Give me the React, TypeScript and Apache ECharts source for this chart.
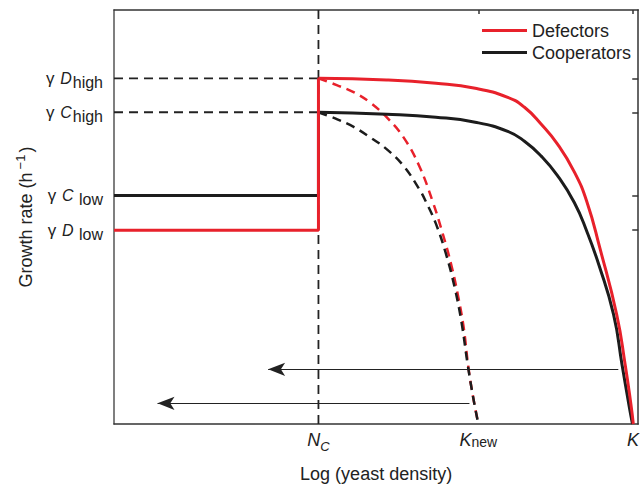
import React, { useEffect, useRef } from "react";
import * as echarts from "echarts";

// x: log yeast density (0..100 arbitrary units), y: growth rate (0..100 arbitrary units)
const xNC = 39;
const xKnew = 69.5;
const xK = 99;

const gammaDHigh = 83.5;
const gammaCHigh = 75.3;
const gammaCLow = 55.2;
const gammaDLow = 46.8;

const defCurveX = [39, 52, 61.4, 68.9, 75.1, 78.3, 81.5, 84.6, 87.8, 90.2, 92.7, 95.9, 97.5, 98.6, 99.06];
const defCurveY = [83.5, 83.1, 82.3, 81.1, 78.9, 76.5, 72.4, 67.6, 60.9, 53.7, 42.4, 26.4, 14.4, 4.8, 0];
const coopCurveX = [39, 52, 61.4, 68.9, 75.1, 78.3, 81.5, 84.6, 87.8, 90.2, 92.5, 95.3, 96.9, 98.2, 98.9];
const coopCurveY = [75.3, 74.8, 74.1, 72.9, 70.7, 68.3, 64.7, 60.0, 53.5, 46.5, 38.4, 26.4, 14.4, 4.8, 0];

const defNewX = [39, 42.6, 45.8, 48.8, 52.0, 55.2, 58.2, 60.8, 62.7, 64.4, 65.7, 66.7, 67.6, 68.5, 69.5];
const defNewY = [83.5, 81.8, 80.1, 77.7, 74.1, 69.3, 62.4, 53.7, 46.0, 38.1, 30.5, 23.3, 13.7, 6.5, 0];
const coopNewX = [39, 42.6, 45.8, 48.8, 52.0, 55.2, 58.2, 59.5, 61.4, 63.3, 65.0, 66.3, 67.4, 68.5, 69.5];
const coopNewY = [75.3, 73.6, 71.7, 69.3, 66.4, 62.4, 56.8, 53.7, 48.4, 41.2, 32.9, 24.5, 14.9, 6.5, 0];

// arrows: [fromX, toX, y]
const arrowUpper = [96.2, 29.4, 13.2];
const arrowLower = [67.8, 8.3, 5.0];

const xTickValues = [xNC, xKnew, xK];
const yTickValues = [gammaDLow, gammaCLow, gammaCHigh, gammaDHigh];

const RED = "#e8212b";
const BLACK = "#1c1c1c";
const FONT = "Liberation Sans";

const zip = (xs: number[], ys: number[]) => xs.map((x, i) => [x, ys[i]]);

export default function App() {
  const ref = useRef<HTMLDivElement>(null);

  useEffect(() => {
    if (!ref.current) return;
    const chart = echarts.init(ref.current, null, { renderer: "svg" });

    const dashed = { type: [9, 6] as any };

    const option: any = {
      animation: false,
      textStyle: { fontFamily: FONT },
      grid: { left: 114, top: 10, width: 531, height: 417 },
      legend: {
        data: ["Defectors", "Cooperators"],
        orient: "vertical",
        left: 477,
        top: 16,
        icon: "rect",
        itemWidth: 45,
        itemHeight: 3,
        itemGap: 3,
        textStyle: { fontSize: 18, color: "#222", fontFamily: FONT, lineHeight: 19 },
      },
      xAxis: [
        {
          type: "value",
          min: 0,
          max: 100,
          position: "bottom",
          axisLine: { show: true, lineStyle: { color: "#333", width: 1.5 } },
          axisTick: { show: false },
          splitLine: { show: false },
          axisLabel: {
            customValues: xTickValues,
            margin: 7,
            formatter: (v: number) => {
              if (Math.abs(v - xNC) < 0.01) return "{i|N}{sub|C}";
              if (Math.abs(v - xKnew) < 0.01) return "{i|K}{n|new}";
              return "{i|K}";
            },
            rich: {
              i: { fontSize: 18, fontStyle: "italic", color: "#222", fontFamily: FONT, verticalAlign: "bottom", padding: [0, 0, 4, 0] },
              sub: { fontSize: 13, fontStyle: "italic", color: "#222", fontFamily: FONT, verticalAlign: "bottom", padding: [0, 0, 0, 0] },
              n: { fontSize: 14, color: "#222", fontFamily: FONT, verticalAlign: "bottom", padding: [0, 0, 4, 0] },
            },
          },
          name: "Log (yeast density)",
          nameLocation: "middle",
          nameGap: 41,
          nameTextStyle: { fontSize: 18, color: "#222", fontFamily: FONT },
        },
        {
          type: "value",
          min: 0,
          max: 100,
          position: "top",
          axisLine: { show: true, onZero: false, lineStyle: { color: "#333", width: 1.5 } },
          axisTick: { show: true, inside: true, length: 4, customValues: [xKnew, xK], lineStyle: { color: "#333", width: 1.5 } },
          axisLabel: { show: false },
          splitLine: { show: false },
        },
      ],
      yAxis: [
        {
          type: "value",
          min: 0,
          max: 100,
          position: "left",
          axisLine: { show: true, lineStyle: { color: "#555", width: 1.5 } },
          axisTick: { show: false },
          splitLine: { show: false },
          axisLabel: {
            customValues: yTickValues,
            margin: 11,
            formatter: (v: number) => {
              if (Math.abs(v - gammaDHigh) < 0.01) return "{g|γ }{i|D}{sub|high}";
              if (Math.abs(v - gammaCHigh) < 0.01) return "{g|γ }{i|C}{sub|high}";
              if (Math.abs(v - gammaCLow) < 0.01) return "{g|γ }{i|C}{sub| low}";
              return "{g|γ }{i|D}{sub| low}";
            },
            rich: {
              g: { fontSize: 17, lineHeight: 17, color: "#222", fontFamily: FONT, verticalAlign: "top", padding: [0, 1, 0, 0] },
              i: { fontSize: 16, lineHeight: 16, fontStyle: "italic", color: "#222", fontFamily: FONT, verticalAlign: "top", padding: [1, 1, 0, 0] },
              sub: { fontSize: 16, lineHeight: 16, color: "#222", fontFamily: FONT, verticalAlign: "top", padding: [5, 0, 0, 0] },
            },
          },
          name: "{a|Growth rate (h}{s|−1}{a|)}",
          nameLocation: "middle",
          nameRotate: 90,
          nameGap: 78,
          nameTextStyle: {
            rich: {
              a: { fontSize: 18, color: "#222", fontFamily: FONT, verticalAlign: "bottom", padding: [0, 0, 0, 0] },
              s: { fontSize: 13, color: "#222", fontFamily: FONT, verticalAlign: "bottom", padding: [0, 2, 8, 3] },
            },
          },
        },
        {
          type: "value",
          min: 0,
          max: 100,
          position: "right",
          axisLine: { show: true, onZero: false, lineStyle: { color: "#333", width: 1.5 } },
          axisTick: { show: true, inside: true, length: 6, customValues: yTickValues, lineStyle: { color: "#333", width: 1.5 } },
          axisLabel: { show: false },
          splitLine: { show: false },
        },
      ],
      series: [
        // reference dashed lines
        {
          type: "line",
          data: [[0, gammaDHigh], [xNC, gammaDHigh]],
          symbol: "none",
          silent: true,
          lineStyle: { color: "#222", width: 1.8, ...dashed },
        },
        {
          type: "line",
          data: [[0, gammaCHigh], [xNC, gammaCHigh]],
          symbol: "none",
          silent: true,
          lineStyle: { color: "#222", width: 1.8, ...dashed },
        },
        {
          type: "line",
          data: [[xNC, 0], [xNC, 100]],
          symbol: "none",
          silent: true,
          lineStyle: { color: "#222", width: 1.8, ...dashed },
          markLine: {
            silent: true,
            symbol: ["none", "arrow"],
            symbolSize: [10, 17],
            label: { show: false },
            lineStyle: { color: "#222", width: 1.2, type: "solid" },
            data: [
              [{ coord: [arrowUpper[0], arrowUpper[2]] }, { coord: [arrowUpper[1], arrowUpper[2]] }],
              [{ coord: [arrowLower[0], arrowLower[2]] }, { coord: [arrowLower[1], arrowLower[2]] }],
            ],
          },
        },
        // dashed new-K curves
        {
          type: "line",
          data: zip(defNewX, defNewY),
          symbol: "none",
          smooth: 0.4,
          lineStyle: { color: RED, width: 2.5, ...dashed },
        },
        {
          type: "line",
          data: zip(coopNewX, coopNewY),
          symbol: "none",
          smooth: 0.4,
          lineStyle: { color: BLACK, width: 2.5, ...dashed },
        },
        // cooperators
        {
          name: "Cooperators",
          type: "line",
          data: [[0, gammaCLow], [xNC, gammaCLow], [xNC, gammaCHigh]],
          symbol: "none",
          itemStyle: { color: BLACK },
          lineStyle: { color: BLACK, width: 3 },
        },
        {
          name: "Cooperators",
          type: "line",
          data: zip(coopCurveX, coopCurveY),
          symbol: "none",
          smooth: 0.5,
          itemStyle: { color: BLACK },
          lineStyle: { color: BLACK, width: 3 },
        },
        // defectors
        {
          name: "Defectors",
          type: "line",
          data: [[0, gammaDLow], [xNC, gammaDLow], [xNC, gammaDHigh]],
          symbol: "none",
          itemStyle: { color: RED },
          lineStyle: { color: RED, width: 3 },
        },
        {
          name: "Defectors",
          type: "line",
          data: zip(defCurveX, defCurveY),
          symbol: "none",
          smooth: 0.5,
          itemStyle: { color: RED },
          lineStyle: { color: RED, width: 3 },
        },
      ],
    };

    chart.setOption(option);
    return () => chart.dispose();
  }, []);

  return (
    <div
      ref={ref}
      style={{ position: "fixed", left: 0, top: 0, width: 642, height: 488, background: "#fff" }}
    />
  );
}
